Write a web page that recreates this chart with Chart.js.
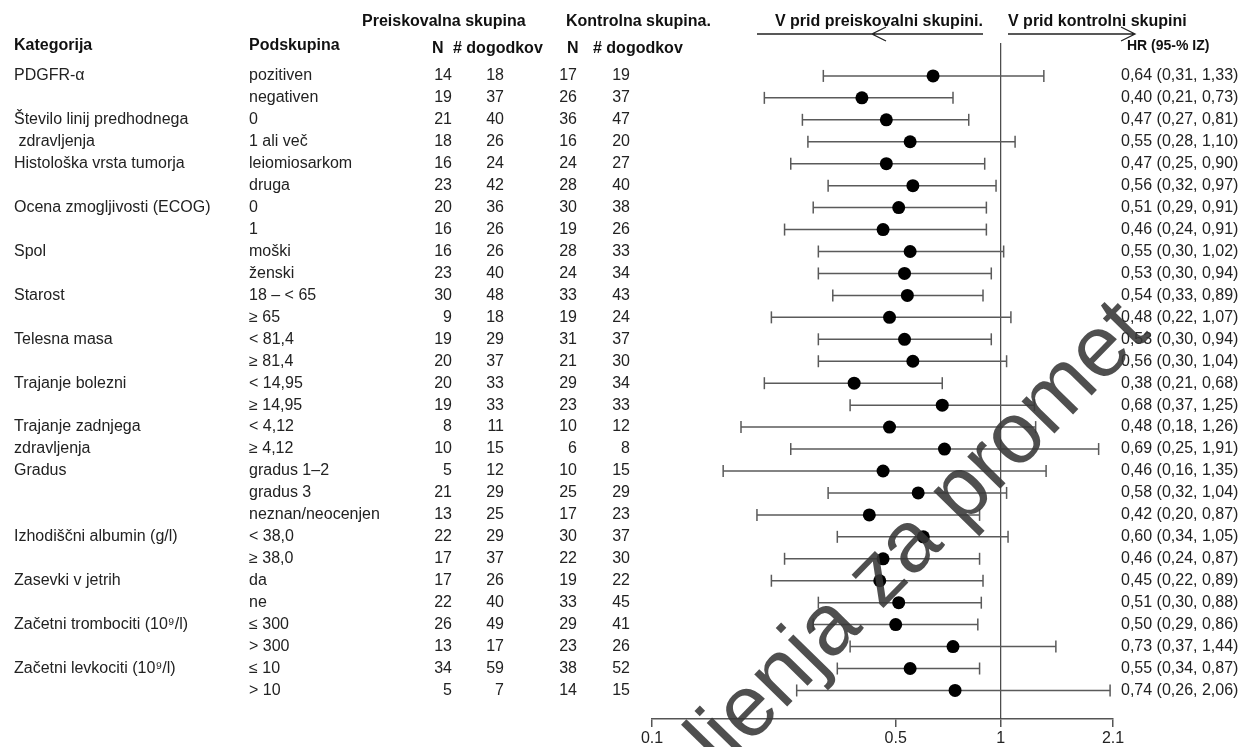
<!DOCTYPE html>
<html>
<head>
<meta charset="utf-8">
<script src="https://cdn.jsdelivr.net/npm/chart.js@4/dist/chart.umd.min.js"></script>
<style>
html,body{margin:0;padding:0;background:#fff;}
#wrap{width:1242px;height:747px;position:relative;}
canvas{display:block;}
</style>
</head>
<body>
<div id="wrap"><canvas id="c" width="1242" height="747" style="width:1242px;height:747px"></canvas></div>
<script>
// ---- data ----
const categories = ["PDGFR-α","","Število linij predhodnega"," zdravljenja","Histološka vrsta tumorja","","Ocena zmogljivosti (ECOG)","","Spol","","Starost","","Telesna masa","","Trajanje bolezni","","Trajanje zadnjega","zdravljenja","Gradus","","","Izhodiščni albumin (g/l)","","Zasevki v jetrih","","Začetni trombociti (10⁹/l)","","Začetni levkociti (10⁹/l)",""];
const subgroups = ["pozitiven","negativen","0","1 ali več","leiomiosarkom","druga","0","1","moški","ženski","18 – < 65","≥ 65","< 81,4","≥ 81,4","< 14,95","≥ 14,95","< 4,12","≥ 4,12","gradus 1–2","gradus 3","neznan/neocenjen","< 38,0","≥ 38,0","da","ne","≤ 300","> 300","≤ 10","> 10"];
const nInv = [14,19,21,18,16,23,20,16,16,23,30,9,19,20,20,19,8,10,5,21,13,22,17,17,22,26,13,34,5];
const eInv = [18,37,40,26,24,42,36,26,26,40,48,18,29,37,33,33,11,15,12,29,25,29,37,26,40,49,17,59,7];
const nCtl = [17,26,36,16,24,28,30,19,28,24,33,19,31,21,29,23,10,6,10,25,17,30,22,19,33,29,23,38,14];
const eCtl = [19,37,47,20,27,40,38,26,33,34,43,24,37,30,34,33,12,8,15,29,23,37,30,22,45,41,26,52,15];
const hr     = [0.64,0.40,0.47,0.55,0.47,0.56,0.51,0.46,0.55,0.53,0.54,0.48,0.53,0.56,0.38,0.68,0.48,0.69,0.46,0.58,0.42,0.60,0.46,0.45,0.51,0.50,0.73,0.55,0.74];
const ciLow  = [0.31,0.21,0.27,0.28,0.25,0.32,0.29,0.24,0.30,0.30,0.33,0.22,0.30,0.30,0.21,0.37,0.18,0.25,0.16,0.32,0.20,0.34,0.24,0.22,0.30,0.29,0.37,0.34,0.26];
const ciHigh = [1.33,0.73,0.81,1.10,0.90,0.97,0.91,0.91,1.02,0.94,0.89,1.07,0.94,1.04,0.68,1.25,1.26,1.91,1.35,1.04,0.87,1.05,0.87,0.89,0.88,0.86,1.44,0.87,2.06];
const xTicks = [0.1, 0.5, 1, 2.1];
const xTickLabels = ["0.1","0.5","1","2.1"];
const refValue = 1;

// ---- layout / style ----
const FONT = "'Liberation Sans', Arial, Helvetica, sans-serif";
const Y_MIN = -0.5, Y_MAX = 30.3;
const TXT = '#222';
const fmt = v => v.toFixed(2).replace('.', ',');

const tablePlugin = {
  id: 'table',
  afterDraw(chart) {
    const ctx = chart.ctx;
    const ys = chart.scales.y;
    ctx.save();
    ctx.textBaseline = 'middle';
    ctx.fillStyle = TXT;
    ctx.font = `16px ${FONT}`;
    subgroups.forEach((s, i) => {
      const py = ys.getPixelForValue(i + 1);
      ctx.textAlign = 'left';
      if (categories[i]) ctx.fillText(categories[i], 14, py);
      ctx.fillText(s, 249, py);
      ctx.textAlign = 'right';
      ctx.fillText(String(nInv[i]), 452, py);
      ctx.fillText(String(eInv[i]), 504, py);
      ctx.fillText(String(nCtl[i]), 577, py);
      ctx.fillText(String(eCtl[i]), 630, py);
      ctx.textAlign = 'left';
      ctx.fillText(`${fmt(hr[i])} (${fmt(ciLow[i])}, ${fmt(ciHigh[i])})`, 1121, py);
    });
    // headers
    ctx.fillStyle = '#111';
    ctx.font = `bold 16px ${FONT}`;
    ctx.textAlign = 'left';
    ctx.fillText('Preiskovalna skupina', 362, 22);
    ctx.fillText('Kontrolna skupina.', 566, 22);
    ctx.fillText('Kategorija', 14, 46);
    ctx.fillText('Podskupina', 249, 46);
    ctx.fillText('N', 432, 49);
    ctx.fillText('# dogodkov', 453, 49);
    ctx.fillText('N', 567, 49);
    ctx.fillText('# dogodkov', 593, 49);
    ctx.textAlign = 'right';
    ctx.fillText('V prid preiskovalni skupini.', 983, 22);
    ctx.textAlign = 'left';
    ctx.fillText('V prid kontrolni skupini', 1008, 22);
    ctx.font = `bold 14px ${FONT}`;
    ctx.fillText('HR (95-% IZ)', 1127, 46);
    // arrows / underlines
    ctx.strokeStyle = '#222';
    ctx.lineWidth = 1.3;
    ctx.beginPath();
    ctx.moveTo(757, 34); ctx.lineTo(983, 34);
    ctx.moveTo(886, 27); ctx.lineTo(872, 34); ctx.lineTo(886, 41);
    ctx.moveTo(1008, 34); ctx.lineTo(1135, 34);
    ctx.moveTo(1121, 27); ctx.lineTo(1135, 34); ctx.lineTo(1121, 41);
    ctx.stroke();
    ctx.restore();
  }
};

const watermarkPlugin = {
  id: 'watermark',
  afterDraw(chart) {
    const ctx = chart.ctx;
    ctx.save();
    ctx.translate(722, 773);
    ctx.rotate(-45.6 * Math.PI / 180);
    ctx.font = `87px ${FONT}`;
    ctx.fillStyle = 'rgba(55,55,55,0.88)';
    ctx.textBaseline = 'alphabetic';
    ctx.textAlign = 'left';
    ctx.fillText('ljenja za promet', 0, 0);
    ctx.textAlign = 'right';
    ctx.fillText('Zdravilo nima več dovo', 0, 0);
    ctx.restore();
  }
};

const whiskerSets = hr.map((v, i) => ({
  type: 'line',
  data: [{x: ciLow[i], y: i + 1}, {x: ciHigh[i], y: i + 1}],
  borderColor: '#5a5a5a',
  borderWidth: 1.5,
  pointStyle: 'line',
  rotation: 90,
  pointRadius: 6,
  pointHoverRadius: 6,
  pointBorderColor: '#5a5a5a',
  pointBorderWidth: 1.5,
  order: 2
}));

const datasets = [
  {
    type: 'scatter',
    data: hr.map((v, i) => ({x: v, y: i + 1})),
    pointRadius: 6.5,
    pointHoverRadius: 6.5,
    pointBackgroundColor: '#000',
    pointBorderColor: '#000',
    pointBorderWidth: 0,
    order: 0
  },
  ...whiskerSets,
  {
    type: 'line',
    data: [{x: refValue, y: Y_MIN}, {x: refValue, y: Y_MAX}],
    borderColor: '#444',
    borderWidth: 1.2,
    pointRadius: 0,
    order: 5
  }
];

new Chart(document.getElementById('c'), {
  type: 'scatter',
  data: {datasets},
  options: {
    responsive: false,
    devicePixelRatio: 1,
    animation: false,
    events: [],
    layout: {padding: {left: 652, right: 129, top: 43, bottom: 0}},
    plugins: {legend: {display: false}, tooltip: {enabled: false}},
    scales: {
      x: {
        type: 'logarithmic',
        position: 'bottom',
        min: 0.1,
        max: 2.1,
        afterBuildTicks: s => { s.ticks = xTicks.map(v => ({value: v})); },
        afterFit: s => { s.height = 28; s.paddingLeft = 0; s.paddingRight = 0; },
        ticks: {
          autoSkip: false,
          maxRotation: 0,
          padding: 2,
          color: TXT,
          font: {family: FONT, size: 16},
          callback: (v, i) => xTickLabels[i]
        },
        grid: {drawOnChartArea: false, drawTicks: true, tickLength: 8, color: '#555', lineWidth: 1.5},
        border: {display: true, color: '#555', width: 1.5}
      },
      y: {
        type: 'linear',
        min: Y_MIN,
        max: Y_MAX,
        reverse: true,
        display: false
      }
    }
  },
  plugins: [tablePlugin, watermarkPlugin]
});
</script>
</body>
</html>
